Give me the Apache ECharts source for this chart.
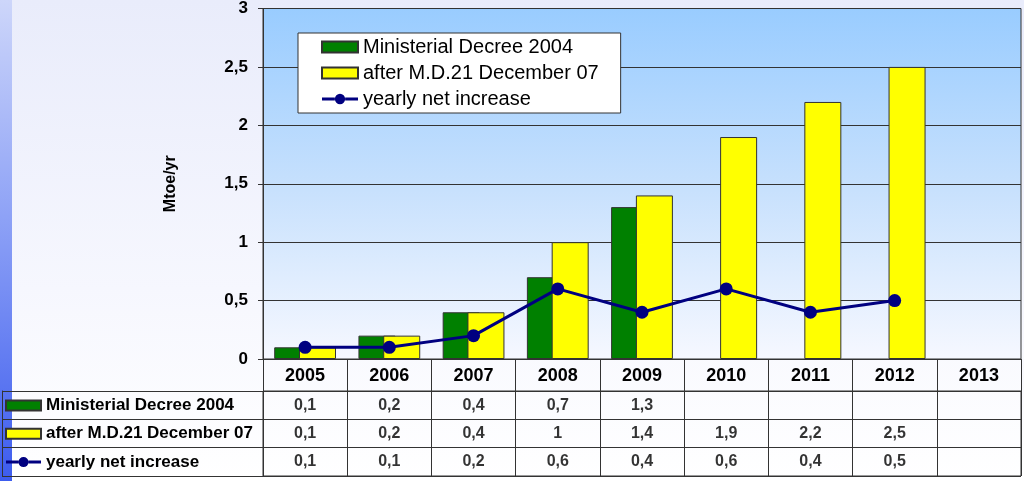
<!DOCTYPE html>
<html>
<head>
<meta charset="utf-8">
<script src="https://cdn.jsdelivr.net/npm/echarts@6/dist/echarts.min.js"></script>
<style>
  html, body { margin: 0; padding: 0; }
  body {
    width: 1024px; height: 481px; overflow: hidden; position: relative;
    background: linear-gradient(to bottom, #e9ecfb 0%, #f6f7fe 60%, #ffffff 100%);
  }
  #strip {
    position: absolute; left: 0; top: 0; width: 12px; height: 481px;
    background: linear-gradient(to bottom, #cdd6fa 0%, #8ea2f6 45%, #3d5cee 100%);
  }
  #chart { position: absolute; left: 0; top: 0; width: 1024px; height: 481px; }
</style>
</head>
<body>
<div id="strip"></div>
<div id="chart"></div>
<script>
// ---- data ----
const years = ['2005', '2006', '2007', '2008', '2009', '2010', '2011', '2012', '2013'];
const seriesNames = ['Ministerial Decree 2004', 'after M.D.21 December 07', 'yearly net increase'];
const decree2004 = [0.1, 0.2, 0.4, 0.7, 1.3, null, null, null, null];
const afterMD07 = [0.1, 0.2, 0.4, 1, 1.4, 1.9, 2.2, 2.5, null];
const netIncrease = [0.1, 0.1, 0.2, 0.6, 0.4, 0.6, 0.4, 0.5, null];
const yTicks = { min: 0, max: 3, interval: 0.5 };

// ---- helpers ----
const FONT = 'Arial, "Liberation Sans", sans-serif';
const fmt = v => String(v).replace('.', ',');
const dark = '#333333';
const lineIcon = 'path://M0,3.5 L12.5,3.5 L12.5,6.5 L0,6.5 Z M22.5,3.5 L35,3.5 L35,6.5 L22.5,6.5 Z M12.5,5 A5,5 0 1,1 22.5,5 A5,5 0 1,1 12.5,5 Z';
const legendData = [
  { name: seriesNames[0], icon: 'rect' },
  { name: seriesNames[1], icon: 'rect' },
  { name: seriesNames[2], icon: lineIcon }
];

// table cells built from the arrays
const rows = [decree2004, afterMD07, netIncrease];
const cellData = [];
rows.forEach((arr, r) => {
  arr.forEach((v, i) => {
    if (v !== null && v !== undefined) cellData.push([years[i], seriesNames[r], v]);
  });
});

const chart = echarts.init(document.getElementById('chart'), null, { renderer: 'canvas' });

const option = {
  animation: false,
  backgroundColor: 'transparent',
  textStyle: { fontFamily: FONT },
  legend: [
    {
      data: legendData,
      orient: 'vertical',
      left: 298, top: 33,
      backgroundColor: '#ffffff',
      borderColor: dark, borderWidth: 1, borderRadius: 0,
      padding: [4, 22, 4, 23],
      itemWidth: 36, itemHeight: 11, itemGap: 6, itemTextGap: 5,
      textStyle: { fontSize: 20, color: '#000', fontFamily: FONT },
      selectedMode: false
    },
    {
      data: legendData,
      orient: 'vertical',
      left: 5, top: 397,
      padding: 0,
      itemWidth: 35, itemHeight: 10, itemGap: 11.3, itemTextGap: 4,
      textStyle: { fontSize: 17, fontWeight: 'bold', color: '#000', fontFamily: FONT },
      selectedMode: false
    }
  ],
  grid: [
    {
      left: 263, top: 8, width: 758, height: 351,
      show: true,
      borderColor: dark, borderWidth: 1,
      backgroundColor: new echarts.graphic.LinearGradient(0, 0, 0, 1, [
        { offset: 0, color: '#99ccff' },
        { offset: 0.5, color: '#c6e0fd' },
        { offset: 1, color: '#f6f8ff' }
      ])
    },
    {
      left: 263, top: 391, width: 758, height: 85,
      show: true, borderColor: dark, borderWidth: 1,
      backgroundColor: 'transparent'
    }
  ],
  xAxis: [
    {
      type: 'category', gridIndex: 0, data: years,
      axisLine: { show: true, lineStyle: { color: dark, width: 1 } },
      axisTick: { show: true, alignWithLabel: false, interval: 0, length: 32, lineStyle: { color: dark } },
      axisLabel: { show: true, interval: 0, margin: 8, color: '#000', fontSize: 18, fontWeight: 'bold', fontFamily: FONT },
      splitLine: { show: false }
    },
    {
      type: 'category', gridIndex: 1, data: years,
      axisLine: { show: false }, axisTick: { show: false }, axisLabel: { show: false },
      splitLine: { show: true, interval: 0, lineStyle: { color: dark, width: 1 } }
    }
  ],
  yAxis: [
    {
      type: 'value', gridIndex: 0,
      min: yTicks.min, max: yTicks.max, interval: yTicks.interval,
      name: 'Mtoe/yr', nameLocation: 'middle', nameRotate: 90, nameGap: 84,
      nameTextStyle: { fontSize: 16, fontWeight: 'bold', color: '#000', fontFamily: FONT },
      axisLine: { show: true, lineStyle: { color: dark, width: 1 } },
      axisTick: { show: true, length: 5, lineStyle: { color: dark } },
      axisLabel: { margin: 15, color: '#000', fontSize: 17, fontWeight: 'bold', fontFamily: FONT, formatter: v => fmt(v) },
      splitLine: { show: true, lineStyle: { color: dark, width: 1 } }
    },
    {
      type: 'category', gridIndex: 1, data: seriesNames, inverse: true,
      axisLine: { show: false },
      axisTick: { show: true, alignWithLabel: false, interval: 0, length: 261, lineStyle: { color: dark } },
      axisLabel: { show: false },
      splitLine: { show: true, interval: 0, lineStyle: { color: dark, width: 1 } }
    },
    {
      type: 'category', gridIndex: 1, data: seriesNames, inverse: true,
      position: 'left', offset: 261,
      axisLine: { show: true, lineStyle: { color: dark, width: 1 } },
      axisTick: { show: false }, axisLabel: { show: false }, splitLine: { show: false }
    }
  ],
  series: [
    {
      name: seriesNames[0], type: 'bar', xAxisIndex: 0, yAxisIndex: 0,
      data: decree2004, barWidth: 37, barGap: '-33%',
      itemStyle: { color: '#008000', borderColor: dark, borderWidth: 1 }
    },
    {
      name: seriesNames[1], type: 'bar', xAxisIndex: 0, yAxisIndex: 0,
      data: afterMD07, barWidth: 37, barGap: '-33%',
      itemStyle: { color: '#ffff00', borderColor: dark, borderWidth: 1 }
    },
    {
      name: seriesNames[2], type: 'line', xAxisIndex: 0, yAxisIndex: 0,
      data: netIncrease, symbol: 'circle', symbolSize: 13, z: 5,
      lineStyle: { color: '#000080', width: 3 },
      itemStyle: { color: '#000080' }
    },
    {
      name: 'table cells', type: 'scatter', xAxisIndex: 1, yAxisIndex: 1,
      data: cellData, symbolSize: 0, silent: true,
      label: {
        show: true, position: 'inside',
        formatter: p => fmt(p.value[2]),
        color: '#000', fontSize: 16, fontWeight: 'bold', fontFamily: FONT
      }
    }
  ]
};
chart.setOption(option);
</script>
</body>
</html>
